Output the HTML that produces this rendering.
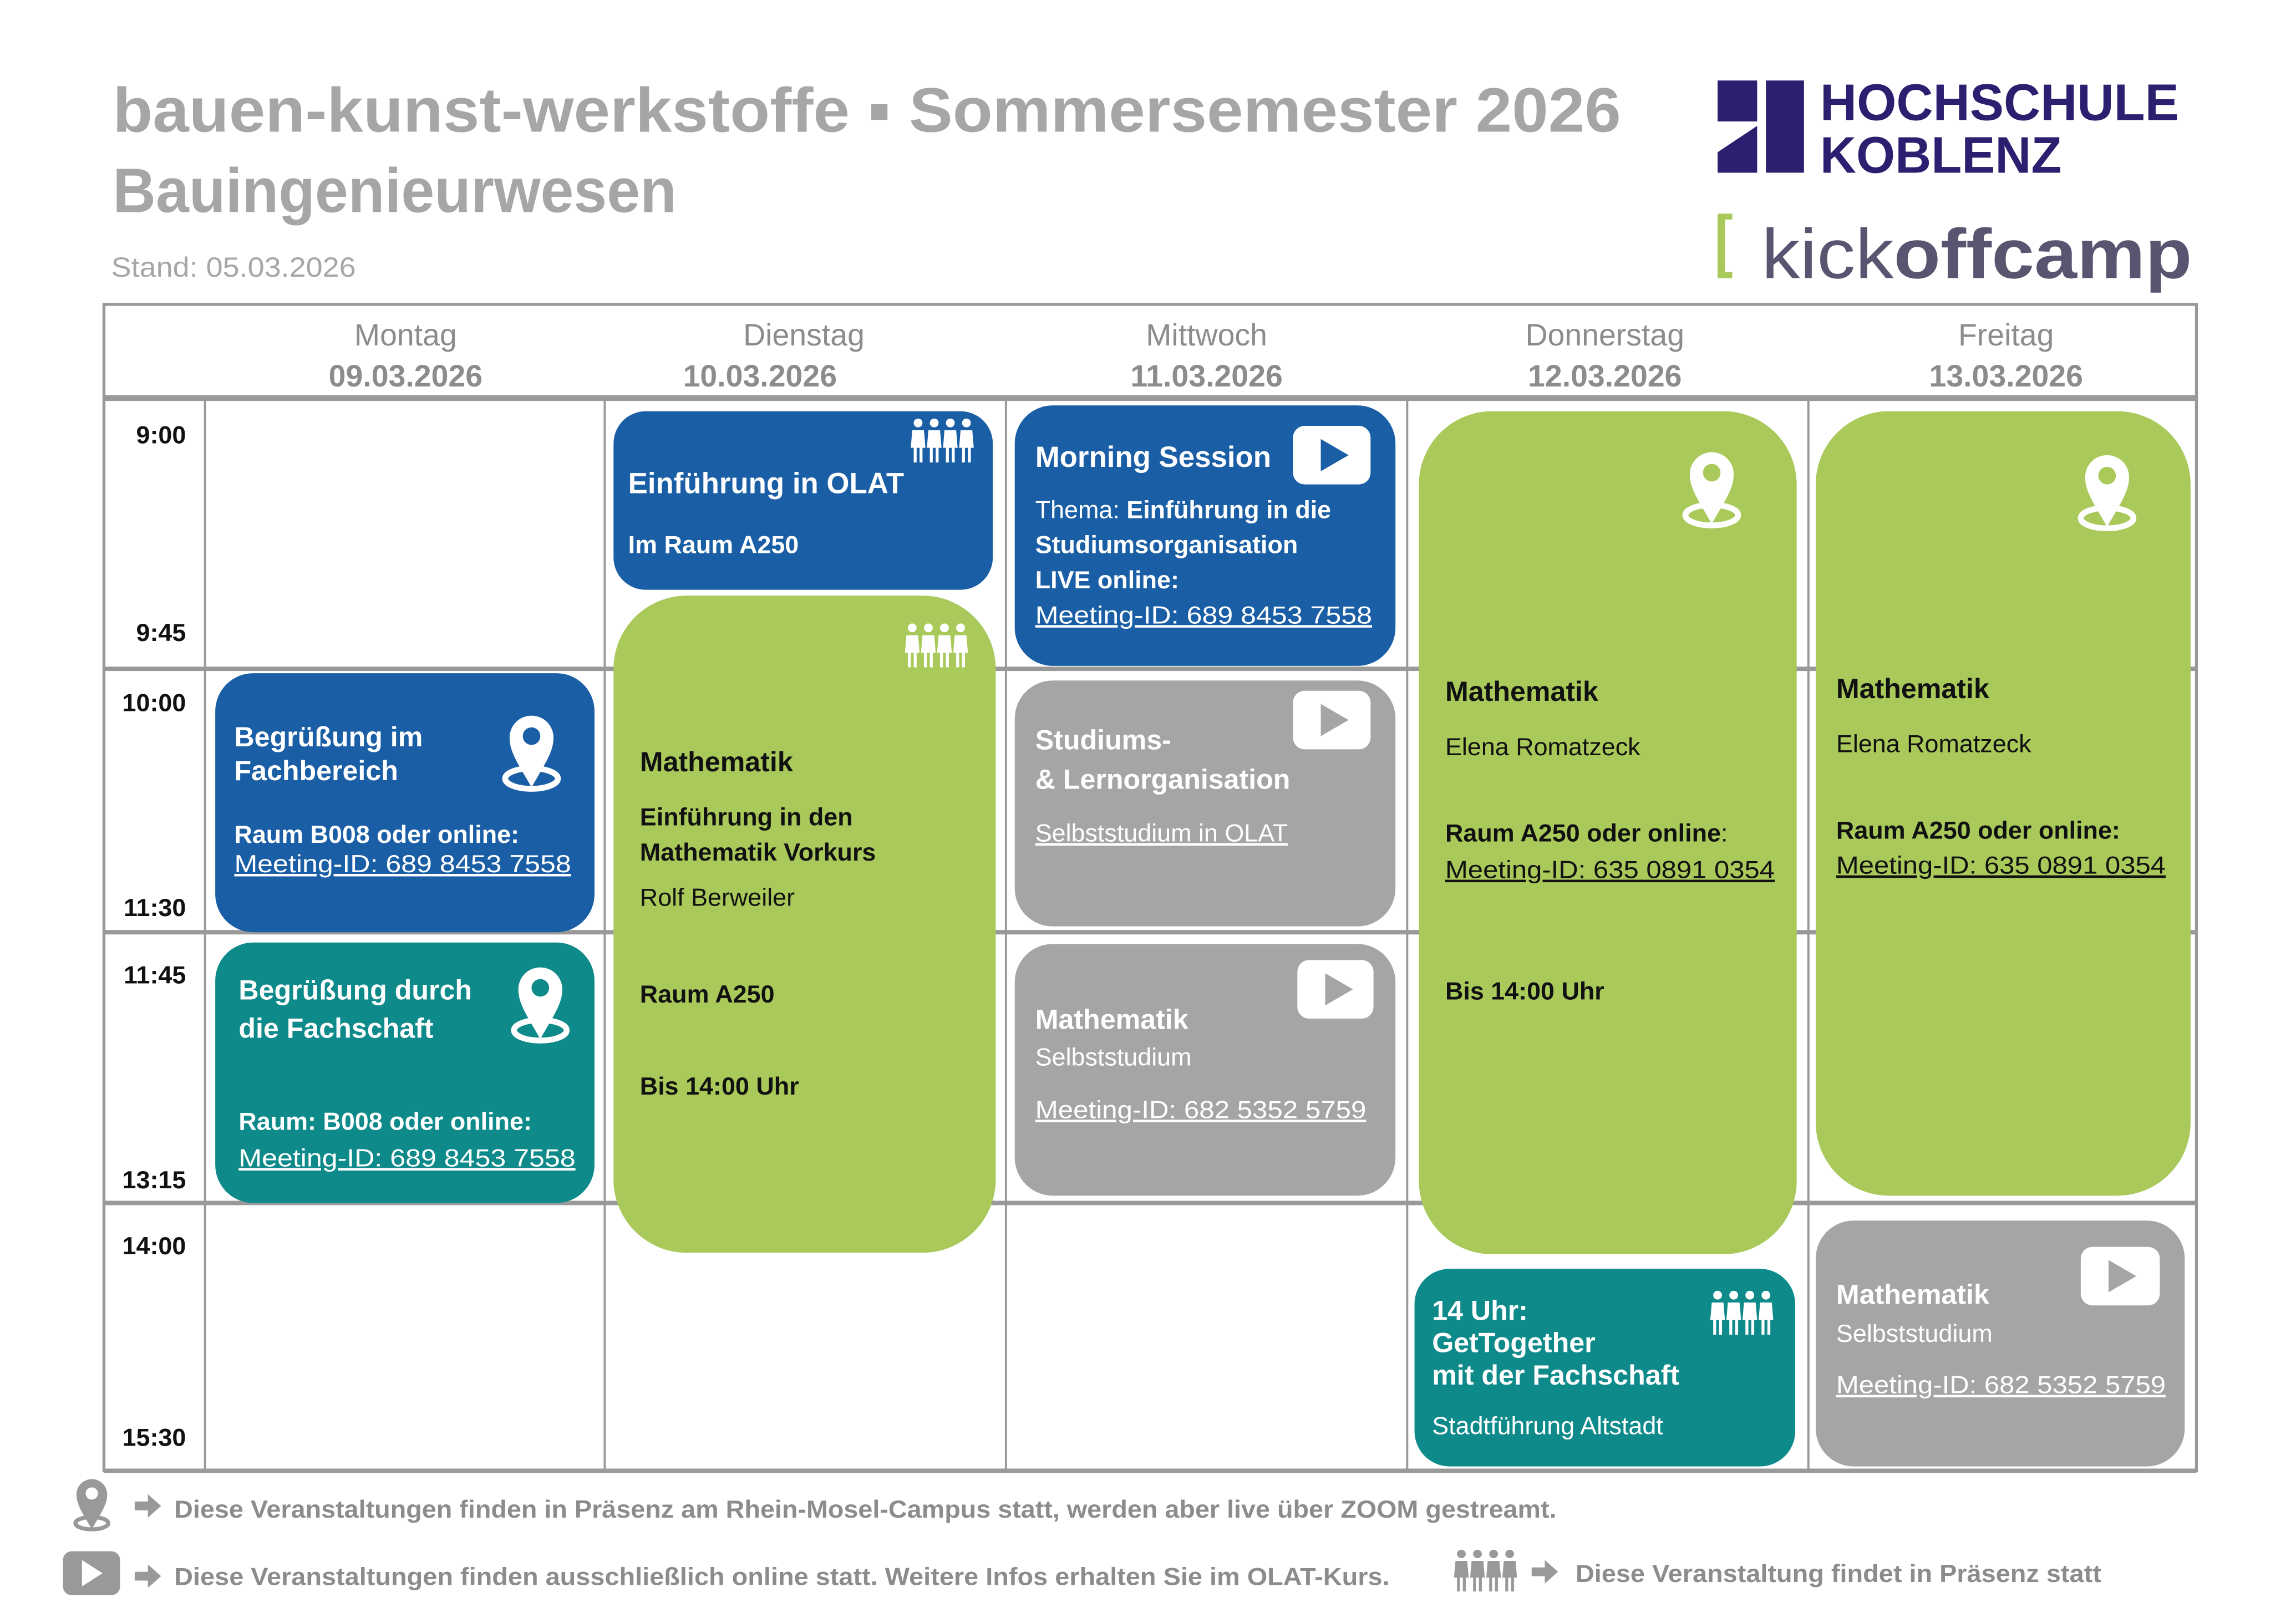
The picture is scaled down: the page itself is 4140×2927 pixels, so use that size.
<!DOCTYPE html>
<html><head><meta charset="utf-8"><style>
html,body{margin:0;padding:0;background:#fff}
svg{display:block}
text{font-family:"Liberation Sans",Arial,sans-serif}
</style></head><body>
<svg xmlns="http://www.w3.org/2000/svg" width="4140" height="2927" viewBox="0 0 1568 1109" preserveAspectRatio="none">
<defs>
<g id="pinW">
<ellipse cx="21" cy="44" rx="18" ry="7" fill="none" stroke="#fff" stroke-width="4"/>
<path fill="#fff" fill-rule="evenodd" d="M21,50 C12,34 6,26 6,16 A15,15 0 1 1 36,16 C36,26 30,34 21,50 Z M27,15 A6,6 0 1 0 15,15 A6,6 0 1 0 27,15 Z"/>
</g>
<g id="ppl" fill="#fff">
<circle cx="5" cy="4" r="3"/><path d="M1,9 h8 l1,12 h-2 v10 h-2 v-10 h-2 v10 h-2 v-10 h-2 z"/>
<circle cx="16" cy="4" r="3"/><path d="M12,9 h8 l1,12 h-2 v10 h-2 v-10 h-2 v10 h-2 v-10 h-2 z"/>
<circle cx="27" cy="4" r="3"/><path d="M23,9 h8 l1,12 h-2 v10 h-2 v-10 h-2 v10 h-2 v-10 h-2 z"/>
<circle cx="38" cy="4" r="3"/><path d="M34,9 h8 l1,12 h-2 v10 h-2 v-10 h-2 v10 h-2 v-10 h-2 z"/>
</g>
</defs>

<text x="77" y="90" font-size="43" font-weight="bold" fill="#a6a6a6" textLength="1030" lengthAdjust="spacingAndGlyphs">bauen-kunst-werkstoffe ▪ Sommersemester 2026</text>
<text x="77" y="145" font-size="43" font-weight="bold" fill="#a6a6a6" textLength="385" lengthAdjust="spacingAndGlyphs">Bauingenieurwesen</text>
<text x="76" y="189" font-size="19" fill="#a6a6a6" textLength="167" lengthAdjust="spacingAndGlyphs">Stand: 05.03.2026</text>

<rect x="1173" y="55" width="27" height="28" fill="#2b2070"/>
<polygon points="1173,104 1200,86 1200,118 1173,118" fill="#2b2070"/>
<rect x="1206" y="55" width="26" height="63" fill="#2b2070"/>
<text x="1243" y="82" font-size="35" font-weight="bold" fill="#2b2070" textLength="245" lengthAdjust="spacingAndGlyphs">HOCHSCHULE</text>
<text x="1243" y="118" font-size="35" font-weight="bold" fill="#2b2070" textLength="165" lengthAdjust="spacingAndGlyphs">KOBLENZ</text>
<path d="M1173,146 h10 v4 h-5 v36 h5 v4 h-10 z" fill="#a9c95a"/>
<text x="1203" y="190" font-size="48" fill="#5a5470" textLength="294" lengthAdjust="spacingAndGlyphs"><tspan>kick</tspan><tspan font-weight="bold">offcamp</tspan></text>

<g stroke="#999" fill="none">
<rect x="71" y="208" width="1429" height="797" stroke-width="2"/>
<line x1="71" y1="272" x2="1500" y2="272" stroke-width="4"/>
<line x1="71" y1="457" x2="1500" y2="457" stroke-width="3"/>
<line x1="71" y1="637" x2="1500" y2="637" stroke-width="3"/>
<line x1="71" y1="822" x2="1500" y2="822" stroke-width="3"/>
<line x1="71" y1="1005" x2="1500" y2="1005" stroke-width="3"/>
<line x1="140" y1="272" x2="140" y2="1005" stroke-width="1.5"/>
<line x1="413" y1="272" x2="413" y2="1005" stroke-width="1.5"/>
<line x1="687" y1="272" x2="687" y2="1005" stroke-width="1.5"/>
<line x1="961" y1="272" x2="961" y2="1005" stroke-width="1.5"/>
<line x1="1235" y1="272" x2="1235" y2="1005" stroke-width="1.5"/>
</g>

<g font-size="21" fill="#8c8c8c" text-anchor="middle">
<text x="277" y="236">Montag</text><text x="277" y="264" font-weight="bold">09.03.2026</text>
<text x="549" y="236">Dienstag</text><text x="519" y="264" font-weight="bold">10.03.2026</text>
<text x="824" y="236">Mittwoch</text><text x="824" y="264" font-weight="bold">11.03.2026</text>
<text x="1096" y="236">Donnerstag</text><text x="1096" y="264" font-weight="bold">12.03.2026</text>
<text x="1370" y="236">Freitag</text><text x="1370" y="264" font-weight="bold">13.03.2026</text>
</g>

<g font-size="17" font-weight="bold" fill="#111" text-anchor="end">
<text x="127" y="303">9:00</text>
<text x="127" y="438">9:45</text>
<text x="127" y="486">10:00</text>
<text x="127" y="626">11:30</text>
<text x="127" y="672">11:45</text>
<text x="127" y="812">13:15</text>
<text x="127" y="857">14:00</text>
<text x="127" y="988">15:30</text>
</g>

<rect x="147" y="460" width="259" height="177" rx="26" fill="#1a5ea5"/>
<g fill="#fff" font-size="19" font-weight="bold">
<text x="160" y="510">Begrüßung im</text><text x="160" y="533">Fachbereich</text>
<text x="160" y="576" font-size="17">Raum B008 oder online:</text>
</g>
<text x="160" y="596" font-size="17" fill="#fff" text-decoration="underline" textLength="230" lengthAdjust="spacingAndGlyphs">Meeting-ID:  689 8453 7558</text>
<use href="#pinW" x="342" y="488"/>

<rect x="147" y="644" width="259" height="178" rx="26" fill="#0e8a8a"/>
<g fill="#fff" font-size="19" font-weight="bold">
<text x="163" y="683">Begrüßung durch</text><text x="163" y="709">die Fachschaft</text>
<text x="163" y="772" font-size="17">Raum: B008 oder online:</text>
</g>
<text x="163" y="797" font-size="17" fill="#fff" text-decoration="underline" textLength="230" lengthAdjust="spacingAndGlyphs">Meeting-ID:  689 8453 7558</text>
<use href="#pinW" x="348" y="660"/>

<rect x="419" y="281" width="259" height="122" rx="22" fill="#1a5ea5"/>
<text x="429" y="337" font-size="20" font-weight="bold" fill="#fff">Einführung in OLAT</text>
<text x="429" y="378" font-size="17" font-weight="bold" fill="#fff">Im Raum A250</text>
<use href="#ppl" x="622" y="285"/>

<rect x="419" y="407" width="261" height="449" rx="50" fill="#a9c95a"/>
<use href="#ppl" x="618" y="425"/>
<g fill="#111" font-size="17" font-weight="bold">
<text x="437" y="527" font-size="19">Mathematik</text>
<text x="437" y="564">Einführung in den</text>
<text x="437" y="588">Mathematik Vorkurs</text>
<text x="437" y="619" font-weight="normal">Rolf Berweiler</text>
<text x="437" y="685">Raum A250</text>
<text x="437" y="748">Bis 14:00 Uhr</text>
</g>

<rect x="693" y="277" width="260" height="178" rx="26" fill="#1a5ea5"/>
<text x="707" y="319" font-size="20" font-weight="bold" fill="#fff">Morning Session</text>
<rect x="883" y="291" width="53" height="40" rx="8" fill="#fff"/><polygon points="902,300 902,322 921,311" fill="#1a5ea5"/>
<g fill="#fff" font-size="17" font-weight="bold">
<text x="707" y="354"><tspan font-weight="normal">Thema: </tspan>Einführung in die</text>
<text x="707" y="378">Studiumsorganisation</text>
<text x="707" y="402">LIVE online:</text>
<text x="707" y="426" font-weight="normal" text-decoration="underline" textLength="230" lengthAdjust="spacingAndGlyphs">Meeting-ID:  689 8453 7558</text>
</g>

<rect x="693" y="465" width="260" height="168" rx="26" fill="#a5a5a5"/>
<rect x="883" y="472" width="53" height="40" rx="8" fill="#fff"/><polygon points="902,481 902,503 921,492" fill="#a5a5a5"/>
<g fill="#fff" font-size="19" font-weight="bold">
<text x="707" y="512">Studiums-</text><text x="707" y="539">&amp; Lernorganisation</text>
<text x="707" y="575" font-size="17" font-weight="normal" text-decoration="underline">Selbststudium in OLAT</text>
</g>

<rect x="693" y="645" width="260" height="172" rx="26" fill="#a5a5a5"/>
<rect x="886" y="656" width="52" height="40" rx="8" fill="#fff"/><polygon points="905,665 905,687 924,676" fill="#a5a5a5"/>
<g fill="#fff" font-size="19" font-weight="bold">
<text x="707" y="703">Mathematik</text>
<text x="707" y="728" font-size="17" font-weight="normal">Selbststudium</text>
<text x="707" y="764" font-size="17" font-weight="normal" text-decoration="underline" textLength="226" lengthAdjust="spacingAndGlyphs">Meeting-ID: 682 5352 5759</text>
</g>

<rect x="969" y="281" width="258" height="576" rx="50" fill="#a9c95a"/>
<use href="#pinW" x="1148" y="308"/>
<g fill="#111" font-size="17" font-weight="bold">
<text x="987" y="479" font-size="19">Mathematik</text>
<text x="987" y="516" font-weight="normal">Elena Romatzeck</text>
<text x="987" y="575">Raum A250 oder online<tspan font-weight="normal">:</tspan></text>
<text x="987" y="600" font-weight="normal" text-decoration="underline" textLength="225" lengthAdjust="spacingAndGlyphs">Meeting-ID: 635 0891 0354</text>
<text x="987" y="683">Bis 14:00 Uhr</text>
</g>

<rect x="966" y="867" width="260" height="135" rx="24" fill="#0e8a8a"/>
<use href="#ppl" x="1168" y="881"/>
<g fill="#fff" font-size="19" font-weight="bold">
<text x="978" y="902">14 Uhr:</text><text x="978" y="924">GetTogether</text><text x="978" y="946">mit der Fachschaft</text>
<text x="978" y="980" font-size="17" font-weight="normal">Stadtführung Altstadt</text>
</g>

<rect x="1240" y="281" width="256" height="536" rx="50" fill="#a9c95a"/>
<use href="#pinW" x="1418" y="310"/>
<g fill="#111" font-size="17" font-weight="bold">
<text x="1254" y="477" font-size="19">Mathematik</text>
<text x="1254" y="514" font-weight="normal">Elena Romatzeck</text>
<text x="1254" y="573">Raum A250 oder online:</text>
<text x="1254" y="597" font-weight="normal" text-decoration="underline" textLength="225" lengthAdjust="spacingAndGlyphs">Meeting-ID: 635 0891 0354</text>
</g>

<rect x="1240" y="834" width="252" height="168" rx="26" fill="#a5a5a5"/>
<rect x="1421" y="852" width="54" height="40" rx="8" fill="#fff"/><polygon points="1440,861 1440,883 1459,872" fill="#a5a5a5"/>
<g fill="#fff" font-size="19" font-weight="bold">
<text x="1254" y="891">Mathematik</text>
<text x="1254" y="917" font-size="17" font-weight="normal">Selbststudium</text>
<text x="1254" y="952" font-size="17" font-weight="normal" text-decoration="underline" textLength="225" lengthAdjust="spacingAndGlyphs">Meeting-ID: 682 5352 5759</text>
</g>

<g transform="translate(48,1010) scale(0.7)">
<ellipse cx="21" cy="44" rx="16" ry="6" fill="none" stroke="#999" stroke-width="4"/>
<path fill="#999" fill-rule="evenodd" d="M21,50 C12,34 6,26 6,16 A15,15 0 1 1 36,16 C36,26 30,34 21,50 Z M27,15 A6,6 0 1 0 15,15 A6,6 0 1 0 27,15 Z"/>
</g>
<g fill="#999">
<path d="M92,1026 h9 v-5 l9,8 l-9,8 v-5 h-9 z"/>
<rect x="43" y="1060" width="39" height="30" rx="6"/>
<polygon points="56,1066 56,1084 70,1075" fill="#fff"/>
<path d="M92,1074 h9 v-5 l9,8 l-9,8 v-5 h-9 z"/>
<path d="M1046,1071 h9 v-5 l9,8 l-9,8 v-5 h-9 z"/>
</g>
<g fill="#999" transform="translate(993,1058) scale(1,0.95)">
<circle cx="5" cy="4" r="3"/><path d="M1,9 h8 l1,12 h-2 v10 h-2 v-10 h-2 v10 h-2 v-10 h-2 z"/>
<circle cx="16" cy="4" r="3"/><path d="M12,9 h8 l1,12 h-2 v10 h-2 v-10 h-2 v10 h-2 v-10 h-2 z"/>
<circle cx="27" cy="4" r="3"/><path d="M23,9 h8 l1,12 h-2 v10 h-2 v-10 h-2 v10 h-2 v-10 h-2 z"/>
<circle cx="38" cy="4" r="3"/><path d="M34,9 h8 l1,12 h-2 v10 h-2 v-10 h-2 v10 h-2 v-10 h-2 z"/>
</g>
<g fill="#8c8c8c" font-size="17" font-weight="bold">
<text x="119" y="1037" textLength="944" lengthAdjust="spacingAndGlyphs">Diese Veranstaltungen finden in Präsenz am Rhein-Mosel-Campus statt, werden aber live über ZOOM gestreamt.</text>
<text x="119" y="1083" textLength="830" lengthAdjust="spacingAndGlyphs">Diese Veranstaltungen finden ausschließlich online statt. Weitere Infos erhalten Sie im OLAT-Kurs.</text>
<text x="1076" y="1081" textLength="359" lengthAdjust="spacingAndGlyphs">Diese Veranstaltung findet in Präsenz statt</text>
</g>
</svg>
</body></html>
